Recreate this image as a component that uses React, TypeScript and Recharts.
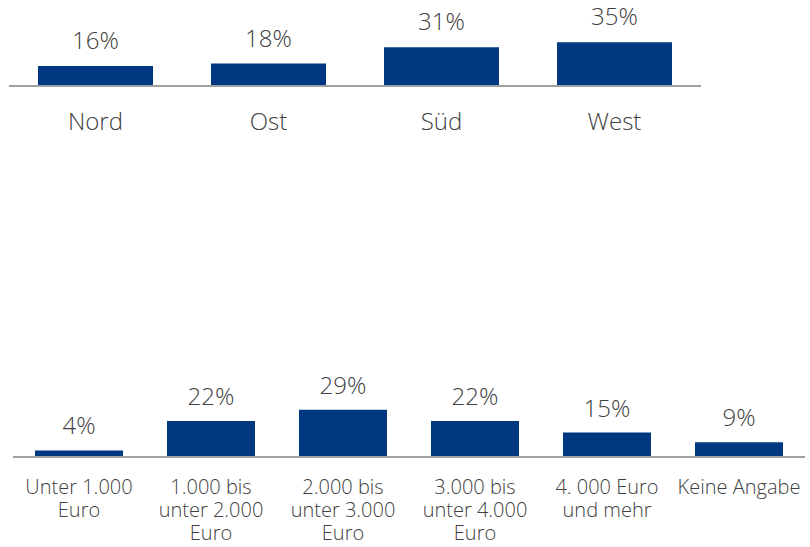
import { BarChart, Bar, XAxis, YAxis, LabelList } from "recharts";

const regions = ["Nord", "Ost", "Süd", "West"];
const regionShares = [16, 18, 31, 35];

const incomeGroups = [
  "Unter 1.000\nEuro",
  "1.000 bis\nunter 2.000\nEuro",
  "2.000 bis\nunter 3.000\nEuro",
  "3.000 bis\nunter 4.000\nEuro",
  "4. 000 Euro\nund mehr",
  "Keine Angabe",
];
const incomeShares = [4, 22, 29, 22, 15, 9];

const BAR = "#003781";
const TEXT = "#404040";
const AXIS = "#a0a0a0";
const FONT = "'Open Sans', sans-serif";

const regionData = regions.map((name, i) => ({ name, value: regionShares[i] }));
const incomeData = incomeGroups.map((name, i) => ({ name, value: incomeShares[i] }));

function makeTick(fontSize: number, firstDy: number, lineHeight: number) {
  return (props: any) => {
    const { x, y, payload } = props;
    const lines = String(payload.value).split("\n");
    return (
      <text
        x={x}
        y={y}
        textAnchor="middle"
        fill={TEXT}
        fontSize={fontSize}
        fontFamily={FONT}
        fontWeight={300}
      >
        {lines.map((line, i) => (
          <tspan key={i} x={x} dy={i === 0 ? firstDy : lineHeight}>
            {line}
          </tspan>
        ))}
      </text>
    );
  };
}

const pct = (v: any) => `${v}%`;

export default function App() {
  return (
    <div
      style={{
        position: "absolute",
        left: 0,
        top: 0,
        width: 810,
        height: 547,
        background: "#fff",
      }}
    >
      <div style={{ position: "absolute", left: 0, top: 0 }}>
        <BarChart
          width={810}
          height={150}
          data={regionData}
          margin={{ top: 36, right: 109, bottom: 10, left: 9 }}
          barSize={115}
        >
          <YAxis hide domain={[0, 40]} />
          <XAxis
            dataKey="name"
            height={54}
            axisLine={{ stroke: AXIS, strokeWidth: 2 }}
            tickLine={false}
            tickSize={0}
            tickMargin={0}
            interval={0}
            tick={makeTick(24, 44, 26)}
          />
          <Bar dataKey="value" fill={BAR} isAnimationActive={false}>
            <LabelList
              dataKey="value"
              position="top"
              offset={17}
              formatter={pct}
              fill={TEXT}
              fontSize={24}
              fontFamily={FONT}
              fontWeight={300}
            />
          </Bar>
        </BarChart>
      </div>
      <div style={{ position: "absolute", left: 0, top: 360 }}>
        <BarChart
          width={810}
          height={187}
          data={incomeData}
          margin={{ top: 48, right: 5, bottom: 0, left: 13 }}
          barSize={88}
        >
          <YAxis hide domain={[0, 30]} />
          <XAxis
            dataKey="name"
            height={90}
            axisLine={{ stroke: AXIS, strokeWidth: 2 }}
            tickLine={false}
            tickSize={0}
            tickMargin={0}
            interval={0}
            tick={makeTick(20, 37, 23)}
          />
          <Bar dataKey="value" fill={BAR} isAnimationActive={false}>
            <LabelList
              dataKey="value"
              position="top"
              offset={16}
              formatter={pct}
              fill={TEXT}
              fontSize={24}
              fontFamily={FONT}
              fontWeight={300}
            />
          </Bar>
        </BarChart>
      </div>
    </div>
  );
}
